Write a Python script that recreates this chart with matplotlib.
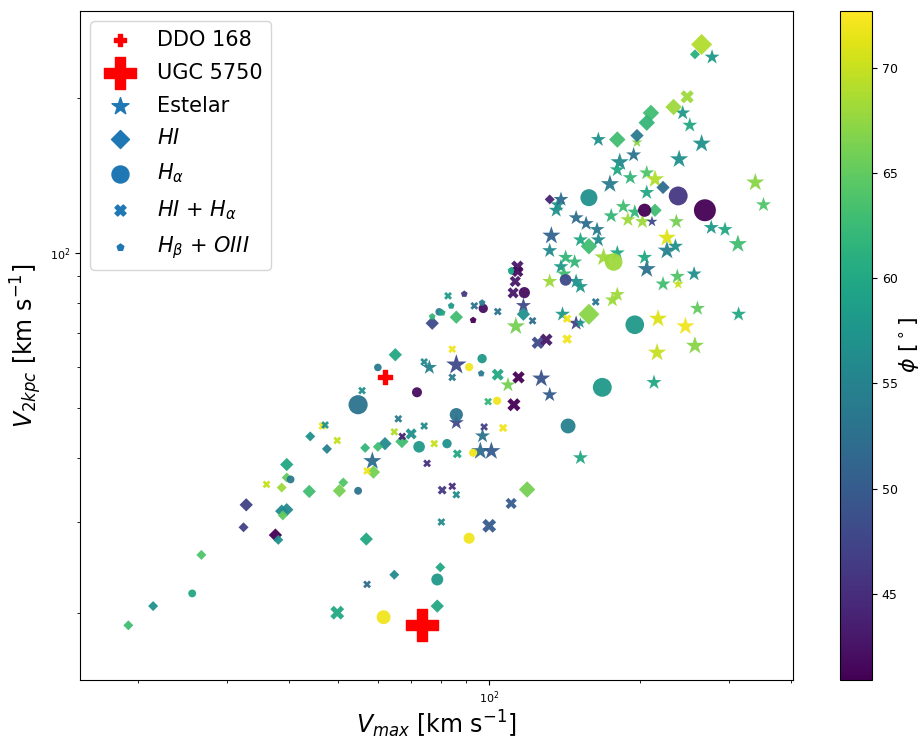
import matplotlib
matplotlib.use("Agg")
import matplotlib.pyplot as plt
from matplotlib.colors import Normalize

# ---- Stellar kinematics (Estelar) ----
est_vmax = [278, 243, 251, 265, 165, 197, 239, 182, 194, 180,
            191, 206, 214, 174, 206, 339, 352, 137, 139, 149,
            156, 164, 133, 132, 152, 165, 175, 185, 189, 195,
            202, 211, 236, 226, 226, 235, 277, 295, 313, 180,
            169, 142, 148, 139, 141, 149, 152, 132, 204, 206,
            256, 222, 237, 238, 176, 180, 117, 140, 149, 152,
            260, 314, 217, 246, 257, 216, 113, 213, 127, 132,
            152, 109, 97, 96, 101, 86, 86, 76, 58.5, 136]
est_v2 = [240, 187, 177, 163, 166, 164, 152, 150, 155, 145,
          140, 143, 139, 136, 131, 137, 124, 124, 127, 117,
          114, 111, 108, 101, 106, 106, 118, 123, 116, 120,
          115, 115, 115, 107, 101, 103, 112, 111, 104, 100,
          98, 98, 96, 94, 91, 88, 86, 88, 98, 93,
          91, 87, 90, 87, 81, 83, 79, 76, 73, 73,
          78, 76, 74.5, 72, 66, 64, 72, 56, 57, 53,
          40, 55.4, 44.1, 41.2, 41.2, 60.6, 46.8, 59.9, 39.4, 121]
est_phi = [58, 58, 60, 57, 57, 67, 57, 56, 53, 60,
           62, 64, 69, 54, 60, 67, 64, 57, 52, 52,
           52, 54, 51, 56, 60, 56, 62, 63, 68, 62,
           68, 48, 66, 71, 55, 57, 58, 60, 63, 60,
           68, 62, 62, 58, 63, 57, 58, 68, 60, 53,
           57, 63, 64, 70, 68, 68, 48, 58, 47, 58,
           65, 60, 71, 72, 67, 70, 66, 60, 49, 50,
           60, 66, 53, 52, 50, 48, 48, 55, 52, 57]
est_size = [130, 130, 130, 190, 130, 70, 190, 190, 130, 130,
            130, 130, 190, 190, 130, 190, 130, 130, 130, 130,
            130, 130, 190, 130, 130, 130, 130, 130, 130, 130,
            130, 70, 130, 190, 190, 130, 130, 130, 190, 130,
            190, 130, 130, 130, 130, 130, 130, 130, 130, 190,
            130, 130, 130, 70, 130, 130, 130, 130, 130, 70,
            130, 130, 190, 190, 190, 190, 190, 130, 190, 130,
            130, 130, 130, 190, 190, 240, 130, 130, 190, 130]

# ---- HI rotation curves ----
hi_vmax = [265, 257, 233, 210, 206, 180, 197, 222, 132, 214,
           158, 158, 117, 86, 77, 65, 44, 47.5, 62, 60,
           56.6, 67, 58.8, 39.5, 38.6, 39.5, 43.8, 50.3, 51.2, 32.8,
           38.6, 39.5, 38.8, 32.4, 37.5, 38, 56.9, 26.7, 79.9, 64.7,
           21.4, 19.1, 78.8, 119]
hi_v2 = [254, 243, 192, 187, 179, 166, 169, 134, 127, 121,
         103, 76, 76, 75, 73, 63.4, 44, 41.6, 42.6, 42,
         41.8, 43, 37.5, 38.8, 35, 36.6, 34.4, 34.5, 35.8, 32.4,
         31.5, 31.7, 30.9, 29.3, 28.3, 27.7, 27.8, 25.9, 24.5, 23.7,
         20.6, 18.9, 20.6, 34.7]
hi_phi = [69, 61, 68, 63, 62, 63, 54, 52, 44, 63,
          63, 67, 57, 63, 48, 60, 57, 55, 56, 63,
          62, 63, 66, 60, 68, 65, 63, 66, 64, 47,
          56, 56, 65, 47, 41, 57, 60, 64, 60, 56,
          57, 63, 60, 66]
hi_size = [115, 26, 70, 70, 70, 70, 46, 46, 26, 46,
           70, 115, 46, 46, 46, 46, 26, 26, 46, 26,
           26, 46, 46, 46, 26, 26, 46, 46, 26, 46,
           46, 46, 26, 26, 46, 26, 46, 26, 26, 26,
           26, 26, 46, 70]

# ---- H-alpha rotation curves ----
ha_vmax = [238, 269, 204, 158, 177, 142, 117.5, 195, 168, 143.6,
           97.3, 96.8, 91.2, 60, 54.8, 71.8, 86, 72.5, 82.4, 92.9,
           103.7, 40.2, 54.8, 91.2, 78.8, 25.6, 61.6, 79.5, 111]
ha_v2 = [129, 121, 121, 128, 96, 88.6, 83.7, 72.5, 54.8, 46.1,
         78, 62.3, 60, 59.9, 50.7, 53.6, 48.5, 42, 42.6, 40.9,
         51.6, 36.3, 34.5, 27.9, 23.2, 21.8, 19.6, 76.8, 92.2]
ha_phi = [46, 41, 41, 57, 68, 48, 42, 58, 58, 55,
          42, 58, 72, 54, 53, 42, 53, 58, 57, 72,
          72, 54, 53, 72, 58, 60, 72, 54, 60]
ha_size = [185, 250, 90, 150, 160, 70, 65, 180, 185, 115,
           45, 45, 35, 30, 190, 52, 90, 70, 45, 35,
           35, 32, 32, 63, 74, 32, 100, 30, 30]

# ---- HI + H-alpha ----
hiha_vmax = [248, 113.8, 114, 112.7, 111.6, 104, 122, 93.4, 82.8, 143,
             163, 143, 125, 130, 104, 114.4, 112, 99.5, 106.6, 97.7,
             84.4, 84.4, 74.2, 55.8, 65.9, 74.2, 69.9, 67.1, 64.7, 77.7,
             86.4, 75.2, 57.1, 80.6, 84.4, 86, 110.6, 100, 80.3, 57.1,
             49.8, 49.8, 46.5, 47.1, 36]
hiha_v2 = [201, 94, 92, 88, 83.6, 76.9, 73.8, 78.9, 82.5, 74.5,
           80.3, 68, 66.9, 67.8, 58, 57.3, 50.7, 51.4, 45.7, 45.9,
           65, 57.3, 61.4, 54, 47.6, 46.1, 44.5, 44, 44.9, 42.6,
           40.7, 39, 37.7, 34.6, 35.2, 33.9, 32.6, 29.5, 30, 22.7,
           20, 43.2, 46.1, 46.3, 35.5]
hiha_phi = [68, 43, 42, 43, 43, 53, 52, 53, 58, 72,
            53, 72, 48, 43, 60, 41, 41, 62, 72, 47,
            72, 54, 56, 57, 54, 56, 57, 44, 69, 70,
            60, 45, 72, 46, 45, 56, 50, 50, 56, 52,
            60, 70, 72, 57, 70]
hiha_size = [90, 80, 65, 65, 65, 32, 32, 32, 32, 38,
             32, 48, 80, 80, 75, 80, 90, 32, 38, 32,
             32, 32, 32, 32, 32, 32, 65, 32, 32, 32,
             42, 32, 32, 42, 32, 32, 65, 100, 32, 32,
             100, 32, 32, 32, 32]

# ---- H-beta + [OIII] ----
hbo_vmax = [89.2, 96.8, 92.9, 77, 80.6, 84, 96.4, 110.6]
hbo_v2 = [83.2, 80, 74, 75.2, 76.5, 78.9, 58.3, 92.4]
hbo_phi = [46, 54, 41, 62, 60, 58, 54, 60]

# ---- Highlighted galaxies ----
ddo168 = (62.1, 57.5)
ugc5750 = (73.5, 18.9)

phi_min, phi_max = 40.9, 72.7

fig = plt.figure(figsize=(9.24, 7.39), dpi=100)
ax = fig.add_axes([80 / 924, 59 / 739, 713 / 924, 669 / 739])
cax = fig.add_axes([840 / 924, 59 / 739, 32 / 924, 669 / 739])

norm = Normalize(vmin=phi_min, vmax=phi_max)
common = dict(cmap="viridis", norm=norm, alpha=0.95, linewidths=0)

sc = ax.scatter(est_vmax, est_v2, c=est_phi, s=est_size, marker="*", **common)
ax.scatter(hi_vmax, hi_v2, c=hi_phi, s=hi_size, marker="D", **common)
ax.scatter(ha_vmax, ha_v2, c=ha_phi, s=ha_size, marker="o", **common)
ax.scatter(hiha_vmax, hiha_v2, c=hiha_phi, s=hiha_size, marker="X", **common)
ax.scatter(hbo_vmax, hbo_v2, c=hbo_phi, s=26, marker="p", **common)

ax.scatter(*ddo168, s=90, marker="P", color="red", zorder=5)
ax.scatter(*ugc5750, s=500, marker="P", color="red", zorder=5)

ax.set_xscale("log")
ax.set_yscale("log")
ax.set_xlim(15.3, 403)
ax.set_ylim(14.8, 295)
ax.tick_params(axis="both", which="major", labelsize=8)

ax.set_xlabel(r"$V_{max}$ [km s$^{-1}$]", fontsize=17, labelpad=2)
ax.set_ylabel(r"$V_{2kpc}$ [km s$^{-1}$]", fontsize=17)

# legend proxies
blue = "tab:blue"
handles = [
    ax.scatter([], [], marker="P", s=75, color="red", label="DDO 168"),
    ax.scatter([], [], marker="P", s=500, color="red", label="UGC 5750"),
    ax.scatter([], [], marker="*", s=165, color=blue, label="Estelar"),
    ax.scatter([], [], marker="D", s=84, color=blue, label=r"$HI$"),
    ax.scatter([], [], marker="o", s=150, color=blue, label=r"$H_{\alpha}$"),
    ax.scatter([], [], marker="X", s=63, color=blue, label=r"$HI$ + $H_{\alpha}$"),
    ax.scatter([], [], marker="p", s=25, color=blue, label=r"$H_{\beta}$ + $OIII$"),
]
ax.legend(handles=handles, loc="upper left", fontsize=15, scatterpoints=1,
          labelspacing=0.62)

cb = fig.colorbar(sc, cax=cax)
cb.solids.set_alpha(1)
cb.ax.tick_params(labelsize=9)
cb.set_label(r"$\phi$ [$^\circ$]", fontsize=16, labelpad=0)

fig.savefig("out.png", dpi=100)
